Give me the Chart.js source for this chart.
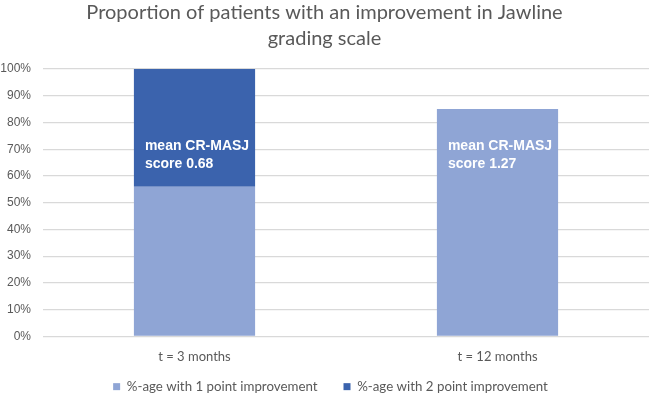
<!DOCTYPE html>
<html>
<head>
<meta charset="utf-8">
<script src="https://cdn.jsdelivr.net/npm/chart.js@4.4.1/dist/chart.umd.min.js"></script>
<style>
  html, body { margin: 0; padding: 0; background: #fff; }
  #wrap { width: 649px; height: 394px; }
</style>
</head>
<body>
<div id="wrap"><canvas id="chart"></canvas></div>
<script>
// --- Data ---
const categories = ['t = 3 months', 't = 12 months'];
const onePoint = [56, 85];   // %-age with 1 point improvement
const twoPoint = [44, 0];    // %-age with 2 point improvement
const scoreLabels = [['mean CR-MASJ', 'score 0.68'], ['mean CR-MASJ', 'score 1.27']];
const titleLines = ['Proportion of patients with an improvement in Jawline', 'grading scale'];

const GREY = '#595959';

// white text inside each bar
const scoreLabelPlugin = {
  id: 'scoreLabels',
  afterDatasetsDraw(chart) {
    const ctx = chart.ctx;
    const meta = chart.getDatasetMeta(0);
    const y = chart.scales.y;
    ctx.save();
    ctx.fillStyle = '#ffffff';
    ctx.font = 'bold 14px "Liberation Sans", Arial, sans-serif';
    ctx.textBaseline = 'middle';
    ctx.textAlign = 'left';
    meta.data.forEach((bar, i) => {
      const left = bar.x - bar.width / 2 + 11;
      const top = y.getPixelForValue(71);
      scoreLabels[i].forEach((line, j) => ctx.fillText(line, left, top + j * 18));
    });
    ctx.restore();
  }
};

// legend takes less room in the layout, then is nudged when drawn
const legendPlace = {
  id: 'legendPlace',
  beforeInit(chart) {
    const fit = chart.legend.fit;
    chart.legend.fit = function () {
      fit.call(this);
      this.height = 16;
    };
  },
  beforeDraw(chart) {
    const lg = chart.legend;
    lg.top = chart.height - 40;
    lg.bottom = chart.height;
    lg.left = 6;
    lg.right = chart.width + 6;
  }
};

new Chart(document.getElementById('chart'), {
  type: 'bar',
  data: {
    labels: categories,
    datasets: [
      { label: '%-age with 1 point improvement', data: onePoint, backgroundColor: '#8FA5D5' },
      { label: '%-age with 2 point improvement', data: twoPoint, backgroundColor: '#3B63AD' },
    ]
  },
  options: {
    responsive: true, maintainAspectRatio: false, animation: false,
    categoryPercentage: 0.4, barPercentage: 1,
    layout: { padding: 0 },
    plugins: {
      title: {
        display: true, text: titleLines, color: GREY,
        font: { family: 'Lato', size: 20, weight: 'normal', lineHeight: 1.3 },
        padding: { top: 0, bottom: 17 }
      },
      legend: {
        position: 'bottom',
        labels: {
          color: GREY, boxWidth: 7, boxHeight: 7, padding: 26,
          font: { family: 'Lato', size: 13.3 }
        }
      },
      tooltip: { enabled: false }
    },
    scales: {
      x: {
        stacked: true,
        grid: { display: false, drawTicks: false },
        border: { display: false },
        ticks: { color: GREY, padding: 13, font: { family: 'Lato', size: 13 } }
      },
      y: {
        stacked: true, min: 0, max: 100,
        grid: { color: '#D9D9D9', lineWidth: 1.3, drawTicks: false },
        border: { display: false },
        ticks: {
          stepSize: 10, padding: 12, color: GREY,
          font: { family: '"Liberation Sans"', size: 12 },
          callback: v => v + '%'
        },
        afterFit: s => { s.width = 43; }
      }
    }
  },
  plugins: [scoreLabelPlugin, legendPlace]
});
</script>
</body>
</html>
